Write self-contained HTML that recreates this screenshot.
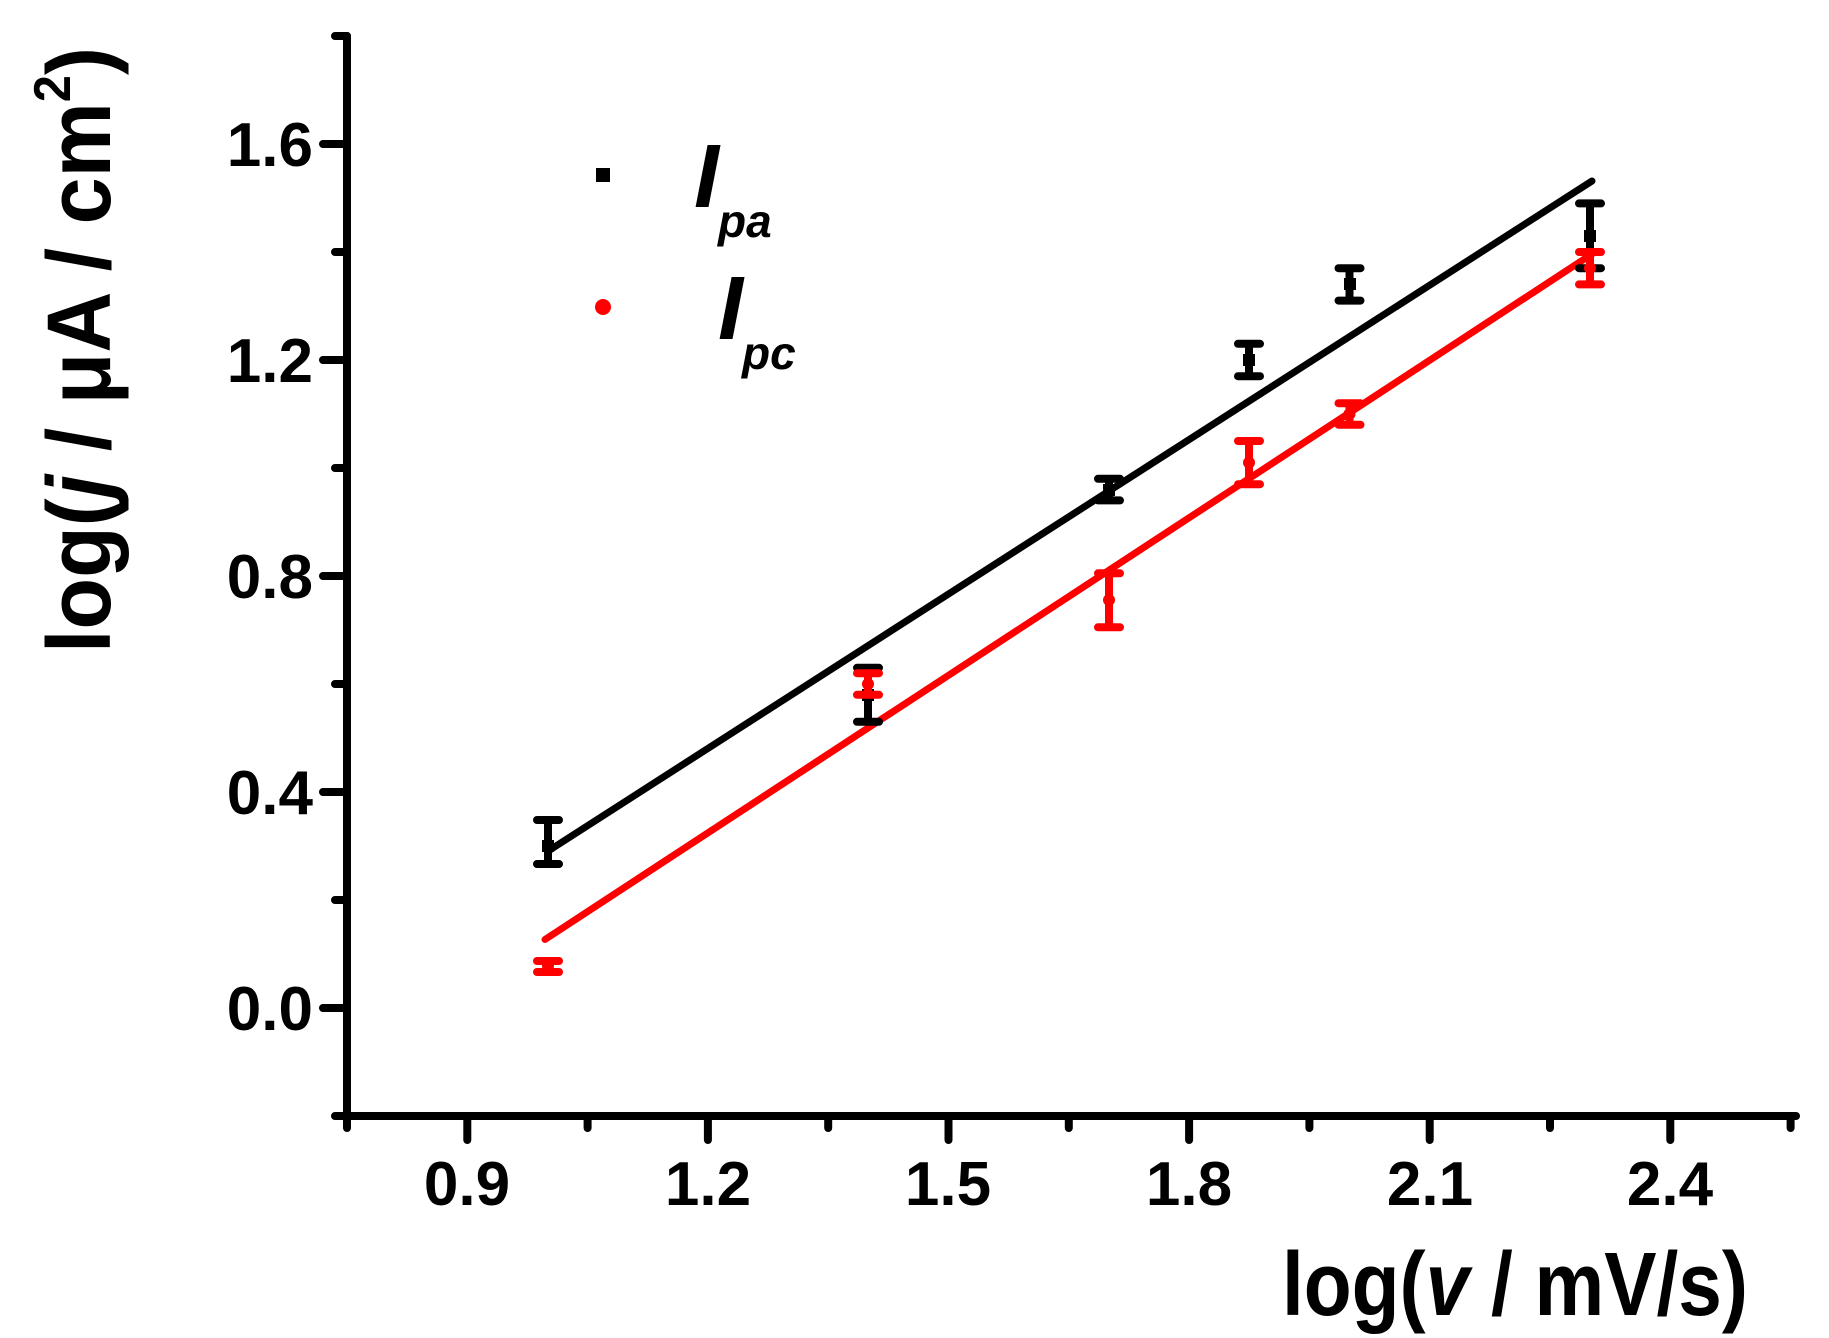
<!DOCTYPE html>
<html><head><meta charset="utf-8"><style>html,body{margin:0;padding:0;background:#fff}svg{display:block}</style></head>
<body>
<svg width="1829" height="1338" viewBox="0 0 1829 1338" xmlns="http://www.w3.org/2000/svg" font-family="Liberation Sans, Arial, sans-serif" font-weight="bold">
<rect width="1829" height="1338" fill="#fff"/>
<g stroke="#000" stroke-width="8" stroke-linecap="round" fill="none">
<path d="M347 36 V1116 H1796"/>
<path d="M323 1008H347 M323 792H347 M323 576H347 M323 360H347 M323 144H347"/>
<path d="M335 1116H347 M335 900H347 M335 684H347 M335 468H347 M335 252H347 M335 36H347"/>
<path d="M467.3 1116V1140 M707.9 1116V1140 M948.5 1116V1140 M1189.1 1116V1140 M1429.7 1116V1140 M1670.3 1116V1140"/>
<path d="M347 1116V1128 M587.6 1116V1128 M828.2 1116V1128 M1068.8 1116V1128 M1309.4 1116V1128 M1550 1116V1128 M1790.6 1116V1128"/>
</g>
<g font-size="62" text-anchor="end">
<text x="313" y="1030">0.0</text>
<text x="313" y="814">0.4</text>
<text x="313" y="598">0.8</text>
<text x="313" y="382">1.2</text>
<text x="313" y="166">1.6</text>
</g>
<g font-size="62" text-anchor="middle">
<text x="467" y="1205">0.9</text>
<text x="708" y="1205">1.2</text>
<text x="948" y="1205">1.5</text>
<text x="1189" y="1205">1.8</text>
<text x="1430" y="1205">2.1</text>
<text x="1670" y="1205">2.4</text>
</g>
<text x="1282" y="1315" font-size="90" textLength="466" lengthAdjust="spacingAndGlyphs">log(<tspan font-style="italic">v</tspan> / mV/s)</text>
<text transform="translate(110,653) rotate(-90)" font-size="90" textLength="606" lengthAdjust="spacingAndGlyphs">log(<tspan font-style="italic">j</tspan> / μA / cm<tspan font-size="52" dy="-40">2</tspan><tspan dy="40">)</tspan></text>
<line x1="547.5" y1="851.4" x2="1592" y2="181" stroke="#000" stroke-width="7" stroke-linecap="round"/>
<line x1="545" y1="939.5" x2="1592" y2="254" stroke="#f00" stroke-width="7" stroke-linecap="round"/>
<g stroke="#000" stroke-width="8" stroke-linecap="round" fill="none">
<path d="M548 820V864 M537 820H559 M537 864H559"/>
<path d="M868 667.8V721.8 M857 667.8H879 M857 721.8H879"/>
<path d="M1109 478.8V500.4 M1098 478.8H1120 M1098 500.4H1120"/>
<path d="M1249 343.8V376.2 M1238 343.8H1260 M1238 376.2H1260"/>
<path d="M1349.5 268.2V300.6 M1338.5 268.2H1360.5 M1338.5 300.6H1360.5"/>
<path d="M1590 203.4V268.2 M1579 203.4H1601 M1579 268.2H1601"/>
</g>
<g fill="#000">
<rect x="542" y="840" width="12" height="12"/><rect x="862" y="689" width="12" height="12"/><rect x="1103" y="484" width="12" height="12"/><rect x="1243" y="354" width="12" height="12"/><rect x="1344" y="278" width="12" height="12"/><rect x="1584" y="230" width="12" height="12"/>
</g>
<g stroke="#f00" stroke-width="8" stroke-linecap="round" fill="none">
<path d="M548 961V972 M537 961H559 M537 972H559"/>
<path d="M868 673.2V694.8 M857 673.2H879 M857 694.8H879"/>
<path d="M1109 573.3V627.3 M1098 573.3H1120 M1098 627.3H1120"/>
<path d="M1249 441V484.2 M1238 441H1260 M1238 484.2H1260"/>
<path d="M1349.5 403.2V424.8 M1338.5 403.2H1360.5 M1338.5 424.8H1360.5"/>
<path d="M1590 252V284.4 M1579 252H1601 M1579 284.4H1601"/>
</g>
<g fill="#f00">
<circle cx="548" cy="966" r="6"/><circle cx="868" cy="684" r="6"/><circle cx="1109" cy="600" r="6"/><circle cx="1249" cy="462.6" r="6"/><circle cx="1349.5" cy="414" r="6"/><circle cx="1590" cy="268" r="6"/>
</g>
<rect x="596" y="168" width="14" height="14" fill="#000"/>
<circle cx="603" cy="307" r="8" fill="#f00"/>
<g font-style="italic">
<text x="694" y="207" font-size="90">I</text>
<text x="718" y="237" font-size="46">pa</text>
<text x="718" y="339" font-size="90">I</text>
<text x="742" y="369" font-size="46">pc</text>
</g>
</svg>
</body></html>
